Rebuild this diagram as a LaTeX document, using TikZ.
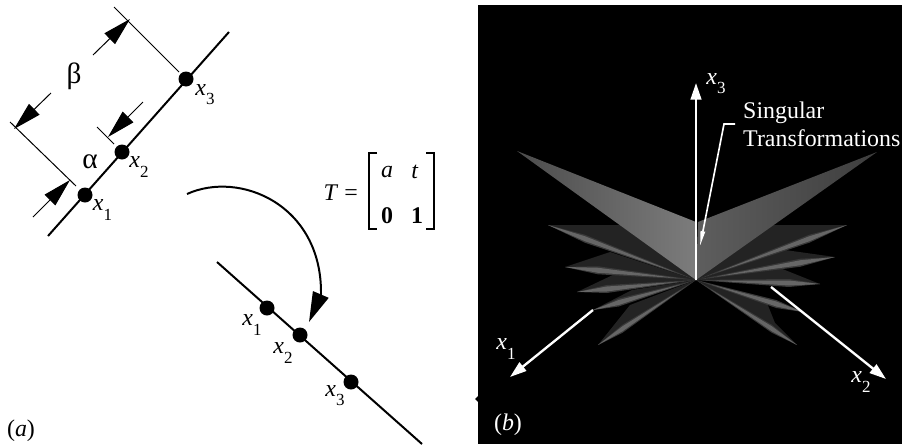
\documentclass[tikz,border=0pt]{standalone}
\usepackage{amsmath}
\usepackage{fontspec}
\setmainfont{Liberation Serif}
\usepackage{xcolor}
\usetikzlibrary{arrows.meta, calc}
\definecolor{fan-tip}{HTML}{4C4C4C}
\definecolor{fan-left}{HTML}{7C7C7C}
\definecolor{fan-right}{HTML}{5E5E5E}
\definecolor{fan-tipr}{HTML}{3E3E3E}
\definecolor{fan-sail}{HTML}{232323}
\definecolor{fan-soft}{HTML}{3A3A3A}
\definecolor{fan-streak}{HTML}{666666}
\newcommand{\xlab}[1]{\textit{x}\raisebox{-0.38em}{\fontsize{14.5}{14.5}\selectfont #1}}
\tikzset{
  lbl/.style={font=\fontsize{20.4}{23.4}\selectfont, inner sep=0pt},
  wlbl/.style={lbl, text=white},
  grklbl/.style={font=\fontsize{25}{25}\selectfont, inner sep=0pt},
  ptdot/.style={circle, fill=black, inner sep=0pt, minimum size=0.45cm},
  mainline/.style={line width=1.7pt},
  extline/.style={line width=0.85pt},
  bracketline/.style={line width=1.6pt},
  dimarrow/.style={line width=0.85pt, -{Triangle[length=0.85cm, width=0.45cm]}},
  whitearrow/.style={white, line width=2pt, -{Triangle[length=0.5cm, width=0.32cm]}}
}
\begin{document}
\begin{tikzpicture}[x=0.03cm, y=-0.03cm, every node/.style={lbl}]
  \useasboundingbox (0,0) rectangle (902,444);
  % left part, upper line
  \coordinate (upa) at (48,236);
  \coordinate (upb) at (229,32);
  \draw[mainline] (upa) -- (upb);
  \node[ptdot] (px1) at (85,195) {};
  \node[ptdot] (px2) at (122,152) {};
  \node[ptdot] (px3) at (186,79) {};
  \node (lpx1) at (102.5,210) {\xlab{1}};
  \node (lpx2) at (139,167) {\xlab{2}};
  \node (lpx3) at (205,95) {\xlab{3}};
  \node[grklbl] (lalpha) at (90,162) {α};
  \node[grklbl] (lbeta) at (74,76) {β};
  % extension lines
  \coordinate (exa) at (10,122);
  \coordinate (exb) at (76,186);
  \coordinate (exc) at (97,127);
  \coordinate (exd) at (114,144);
  \coordinate (exe) at (114,7);
  \coordinate (exf) at (179,72);
  \draw[extline] (exa) -- (exb);
  \draw[extline] (exc) -- (exd);
  \draw[extline] (exe) -- (exf);
  % dimension arrows
  \coordinate (aa) at (33,217);
  \coordinate (ab) at (70,180);
  \coordinate (ac) at (143,102);
  \coordinate (ad) at (108,137);
  \coordinate (ae) at (93,55);
  \coordinate (af) at (130,19);
  \coordinate (ag) at (51,93);
  \coordinate (ah) at (14,129);
  \draw[dimarrow] (aa) -- (ab);
  \draw[dimarrow] (ac) -- (ad);
  \draw[dimarrow] (ae) -- (af);
  \draw[dimarrow] (ag) -- (ah);
  % lower line
  \coordinate (loa) at (217,262);
  \coordinate (lob) at (422,444);
  \draw[mainline] (loa) -- (lob);
  \node[ptdot] (qx1) at (267,308) {};
  \node[ptdot] (qx2) at (300,335) {};
  \node[ptdot] (qx3) at (351,382) {};
  \node (lqx1) at (252,325) {\xlab{1}};
  \node (lqx2) at (283,353) {\xlab{2}};
  \node (lqx3) at (335,396) {\xlab{3}};
  % transformation
  \coordinate (tstart) at (187,194);
  \coordinate (tbend) at (321,294);
  \coordinate (ttip) at (309,322);
  \draw[line width=1.7pt, -{Triangle[length=0.9cm, width=0.5cm]}] (tstart) .. controls (240,170) and (322,205) .. (tbend) -- (ttip);
  \node[anchor=east] (lteq) at (358,193) {\textit{T} =};
  \draw[bracketline] (377,153) -- (369,153) -- (369,229) -- (377,229);
  \draw[bracketline] (426,153) -- (434,153) -- (434,229) -- (426,229);
  \node (ma) at (387,172) {\textit{a}};
  \node (mt) at (415,172) {\textit{t}};
  \node (mz) at (387,216) {\textbf{0}};
  \node (mo) at (417,216) {\textbf{1}};
  \node (lbla) at (21,431) {(\textit{a})};
  % right part
  \fill[black] (478,5) rectangle (902,444);
  \fill[black] (478,396) -- (475,399) -- (478,402) -- cycle;
  \coordinate (org) at (696,280);
  % sails
  \fill[fan-sail] (548,225) -- (625,225) -- (org) -- cycle;
  \fill[fan-sail] (847,225) -- (765,225) -- (org) -- cycle;
  \fill[fan-sail] (565,267) -- (610,252) -- (org) -- cycle;
  \fill[fan-sail] (835,257) -- (785,250) -- (org) -- cycle;
  \fill[fan-sail] (577,292) -- (617,273) -- (org) -- cycle;
  \fill[fan-sail] (820,284) -- (780,268) -- (org) -- cycle;
  \fill[fan-sail] (593,310) -- (632,290) -- (org) -- cycle;
  \fill[fan-sail] (803,312) -- (767,303) -- (org) -- cycle;
  \fill[fan-sail] (598,345) -- (630,305) -- (org) -- cycle;
  \fill[fan-sail] (797,345) -- (775,323) -- (767,303) -- (org) -- cycle;
  % big wings
  \shade[left color=fan-tip, right color=fan-left] (517,151) -- (696,222) -- (org) -- cycle;
  \shade[left color=fan-right, right color=fan-tipr] (877,152) -- (698,222) -- (org) -- cycle;
  % streaks
  \foreach \tx/\ty in {548/225, 565/267, 577/292, 593/310, 598/345, 847/225, 835/257, 820/284, 803/312, 797/345}{
    \coordinate (stip) at (\tx,\ty);
    \fill[fan-soft] (stip) -- ($(stip)!0.25!(org)+(0,-4)$) -- (org) -- ($(stip)!0.25!(org)+(0,4)$) -- cycle;
    \fill[fan-streak] (stip) -- ($(stip)!0.25!(org)+(0,-2.5)$) -- ($(stip)!0.85!(org)$) -- ($(stip)!0.25!(org)+(0,2.5)$) -- cycle;
  }
  % axes
  \coordinate (xca) at (696,83);
  \draw[whitearrow] (org) -- (xca);
  \coordinate (sta) at (735,124);
  \coordinate (stb) at (724,124);
  \coordinate (stc) at (700,246);
  \draw[white, line width=1.4pt, -{Triangle[length=0.45cm, width=0.13cm]}] (sta) -- (stb) -- (stc);
  \coordinate (xaa) at (593,310);
  \coordinate (xab) at (510,377);
  \coordinate (xba) at (771,287);
  \coordinate (xbb) at (886,379);
  \draw[whitearrow] (xaa) -- (xab);
  \draw[whitearrow] (xba) -- (xbb);
  \node[wlbl] (lxc) at (716,84) {\xlab{3}};
  \node[wlbl, align=left, anchor=west] (lsing) at (743,124.5) {Singular\\Transformations};
  \node[wlbl] (lxa) at (506,349) {\xlab{1}};
  \node[wlbl] (lxb) at (861,382) {\xlab{2}};
  \node[wlbl] (lblb) at (508,425) {(\textit{b})};
\end{tikzpicture}
\end{document}
